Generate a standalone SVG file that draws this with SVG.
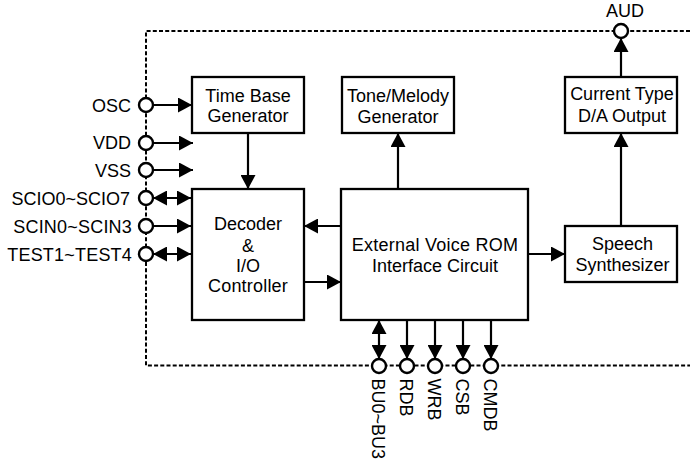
<svg xmlns="http://www.w3.org/2000/svg" width="690" height="463" viewBox="0 0 690 463">
<style>
text{font-family:"Liberation Sans",Arial,sans-serif;font-size:18px;fill:#000}
.m{text-anchor:middle}
.e{text-anchor:end}
.w{letter-spacing:.2px}
.box{fill:#fff;stroke:#000;stroke-width:2.3}
.pin{fill:#fff;stroke:#000;stroke-width:2.4}
.c{fill:none;stroke:#000;stroke-width:2.2}
.d{fill:none;stroke:#000;stroke-width:2;stroke-dasharray:4 2.2}
</style>
<defs>
<marker id="a" markerUnits="userSpaceOnUse" markerWidth="15" markerHeight="15" refX="14" refY="7.500" orient="auto"><path d="M0 0L14 7.500L0 15Z" fill="#000"/></marker>
<marker id="s" markerUnits="userSpaceOnUse" markerWidth="15" markerHeight="15" refX="0" refY="7.500" orient="auto"><path d="M14 0L0 7.500L14 15Z" fill="#000"/></marker>
</defs>
<g id="boundary"><path class="d" d="M690 31H146V365.500H690"/></g>
<g id="connectors">
<path class="c" marker-end="url(#a)" d="M154 105H192"/>
<path class="c" marker-end="url(#a)" d="M154 143H193"/>
<path class="c" marker-end="url(#a)" d="M154 170H193"/>
<path class="c" marker-start="url(#s)" marker-end="url(#a)" d="M153 198H191"/>
<path class="c" marker-end="url(#a)" d="M154 226H191"/>
<path class="c" marker-start="url(#s)" marker-end="url(#a)" d="M153 254H191"/>
<path class="c" marker-end="url(#a)" d="M248 133V189"/>
<path class="c" marker-end="url(#a)" d="M398 189V133"/>
<path class="c" marker-end="url(#a)" d="M341 226H304"/>
<path class="c" marker-end="url(#a)" d="M303 282H341"/>
<path class="c" marker-end="url(#a)" d="M528 254H565"/>
<path class="c" marker-end="url(#a)" d="M621 226V133"/>
<path class="c" marker-end="url(#a)" d="M621 77V38"/>
<path class="c" marker-start="url(#s)" marker-end="url(#a)" d="M379 320V359"/>
<path class="c" marker-end="url(#a)" d="M407 320V359"/>
<path class="c" marker-end="url(#a)" d="M435 320V359"/>
<path class="c" marker-end="url(#a)" d="M463 320V359"/>
<path class="c" marker-end="url(#a)" d="M491 320V359"/>
</g>
<g id="time-base"><rect class="box" x="192" y="77" width="112" height="56"/><text class="m" x="248" y="102">Time Base</text><text class="m" x="248" y="122">Generator</text></g>
<g id="tone"><rect class="box" x="342" y="77" width="112" height="56"/><text class="m" x="398" y="102">Tone/Melody</text><text class="m" x="398" y="123">Generator</text></g>
<g id="dac"><rect class="box" x="565" y="77" width="112" height="56"/><text class="m" x="622" y="100">Current Type</text><text class="m" x="622" y="122">D/A Output</text></g>
<g id="decoder"><rect class="box" x="192" y="189" width="112" height="131"/><text class="m" x="248" y="230">Decoder</text><text class="m" x="248" y="252">&amp;</text><text class="m" x="248" y="272">I/O</text><text class="m w" x="248" y="292">Controller</text></g>
<g id="rom"><rect class="box" x="341" y="189" width="187" height="131"/><text class="m" x="435" y="251" style="letter-spacing:.25px">External Voice ROM</text><text class="m" x="435" y="272">Interface Circuit</text></g>
<g id="speech"><rect class="box" x="565" y="226" width="112" height="56"/><text class="m" x="622.500" y="250">Speech</text><text class="m" x="622.500" y="271">Synthesizer</text></g>
<g id="pin-osc"><circle class="pin" cx="146" cy="105" r="7"/><text class="e" x="131" y="112">OSC</text></g>
<g id="pin-vdd"><circle class="pin" cx="146" cy="143" r="7"/><text class="e" x="131" y="149">VDD</text></g>
<g id="pin-vss"><circle class="pin" cx="146" cy="170" r="7"/><text class="e" x="131" y="177">VSS</text></g>
<g id="pin-scio"><circle class="pin" cx="146" cy="198" r="7"/><text class="e" x="130" y="205">SCIO0~SCIO7</text></g>
<g id="pin-scin"><circle class="pin" cx="146" cy="226" r="7"/><text class="e w" x="132" y="233">SCIN0~SCIN3</text></g>
<g id="pin-test"><circle class="pin" cx="146" cy="254" r="7"/><text class="e w" x="132" y="261">TEST1~TEST4</text></g>
<g id="pin-aud"><circle class="pin" cx="621" cy="31" r="7"/><text class="m" x="625" y="17">AUD</text></g>
<g id="pin-bu"><circle class="pin" cx="379" cy="366" r="7"/><text transform="translate(372 378.500) rotate(90)">BU0~BU3</text></g>
<g id="pin-rdb"><circle class="pin" cx="407" cy="366" r="7"/><text transform="translate(400 378.500) rotate(90)">RDB</text></g>
<g id="pin-wrb"><circle class="pin" cx="435" cy="366" r="7"/><text transform="translate(428 378.500) rotate(90)">WRB</text></g>
<g id="pin-csb"><circle class="pin" cx="463" cy="366" r="7"/><text transform="translate(456 378.500) rotate(90)">CSB</text></g>
<g id="pin-cmdb"><circle class="pin" cx="491" cy="366" r="7"/><text transform="translate(484 378.500) rotate(90)">CMDB</text></g>
</svg>
